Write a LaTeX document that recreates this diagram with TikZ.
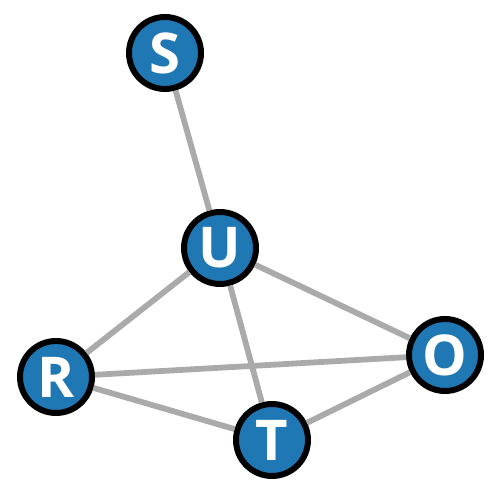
\documentclass[tikz,border=0pt]{standalone}
\usepackage{fontspec}
\setsansfont{Open Sans}
\usepackage{xcolor}
\definecolor{vxblue}{HTML}{1F77B4}
\definecolor{vxedge}{HTML}{AAAAAA}
\begin{document}
\begin{tikzpicture}[
          vertex/.style={circle, draw=black, fill=vxblue, line width=3.4pt, minimum size=1.44cm, inner sep=0pt, text=white, font=\sffamily\bfseries\fontsize{32}{32}\selectfont},
          link/.style={vxedge, line width=3.3pt}]
        \useasboundingbox (0,0) rectangle (10,10);
        \node[vertex] (s) at (3.3,8.94) {S};
        \node[vertex] (u) at (4.4,5.04) {U};
        \node[vertex] (r) at (1.12,2.46) {R};
        \node[vertex] (o) at (8.9,2.9) {O};
        \node[vertex] (t) at (5.44,1.2) {T};
        \draw[link] (s) -- (u);
        \draw[link] (u) -- (r);
        \draw[link] (u) -- (o);
        \draw[link] (u) -- (t);
        \draw[link] (r) -- (o);
        \draw[link] (r) -- (t);
        \draw[link] (t) -- (o);
      \end{tikzpicture}
\end{document}
